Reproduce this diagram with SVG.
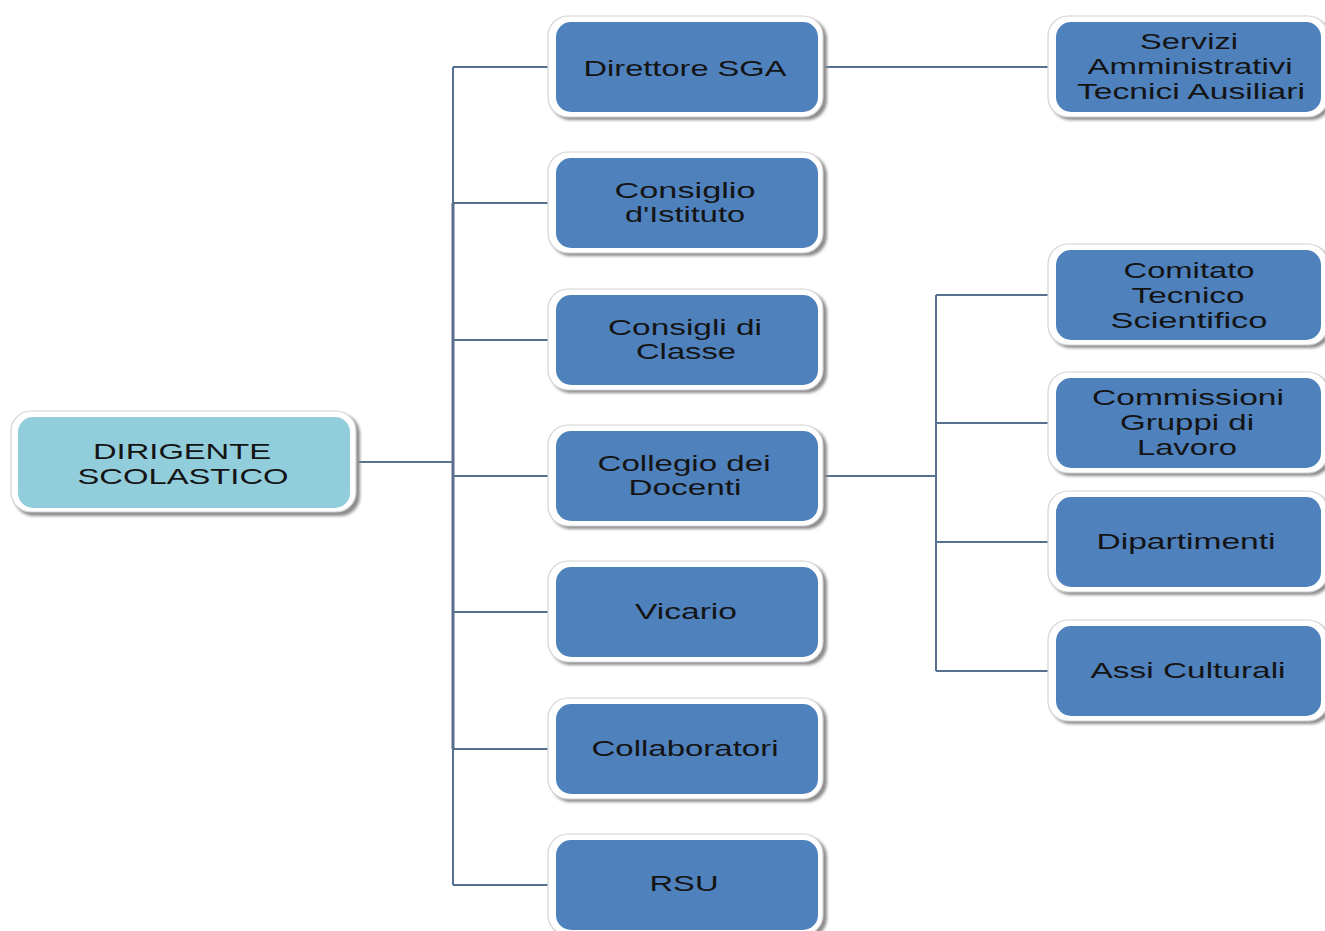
<svg xmlns="http://www.w3.org/2000/svg" width="1325" height="931" viewBox="0 0 1325 931">
<defs>
<filter id="sh" x="-10%" y="-10%" width="125%" height="130%">
<feGaussianBlur stdDeviation="1.5"/>
</filter>
</defs>
<style>
.shadow{fill:#8c8c8c;filter:url(#sh)}
.frame{fill:#ffffff;stroke:#d2d2d2;stroke-width:1.2}
.blue{fill:#4F81BD}
.cyan{fill:#92CDDC}
.t{font-family:"Liberation Sans",Arial,sans-serif;font-size:22px;fill:#141414;text-anchor:middle}
.ln{fill:none;stroke:#56708f;stroke-width:2}
.lnb{fill:none;stroke:#5a6d8c;stroke-width:3}
</style>
<rect width="1325" height="931" fill="#ffffff"/>
<g id="connectors">
<path class="ln" d="M357 462H453M453 67V885"/>
<path class="lnb" d="M453 203V749"/>
<path class="ln" d="M453 67H549M453 203H549M453 340H549M453 476H549M453 612H549M453 749H549M453 885H549"/>
<path class="ln" d="M823 67H1049"/>
<path class="ln" d="M823 476H936M936 295V671M936 295H1049M936 423H1049M936 542H1049M936 671H1049"/>
</g>
<g id="n-dirigente">
<rect class="shadow" x="14" y="414" width="346" height="102" rx="20"/>
<rect class="frame" x="11" y="411" width="345" height="101" rx="20"/>
<rect class="cyan" x="18" y="417" width="332" height="91" rx="15"/>
<text class="t" x="182" y="459" textLength="178" lengthAdjust="spacingAndGlyphs">DIRIGENTE</text>
<text class="t" x="183" y="484" textLength="211" lengthAdjust="spacingAndGlyphs">SCOLASTICO</text>
</g>
<g id="n-direttore">
<rect class="shadow" x="551" y="19" width="276" height="101" rx="20"/>
<rect class="frame" x="548" y="16" width="275" height="101" rx="20"/>
<rect class="blue" x="556" y="22" width="262" height="90" rx="15"/>
<text class="t" x="685" y="76" textLength="203" lengthAdjust="spacingAndGlyphs">Direttore SGA</text>
</g>
<g id="n-consiglio">
<rect class="shadow" x="551" y="155" width="276" height="101" rx="20"/>
<rect class="frame" x="548" y="152" width="275" height="101" rx="20"/>
<rect class="blue" x="556" y="158" width="262" height="90" rx="15"/>
<text class="t" x="685" y="198" textLength="141" lengthAdjust="spacingAndGlyphs">Consiglio</text>
<text class="t" x="685" y="222" textLength="120" lengthAdjust="spacingAndGlyphs">d'Istituto</text>
</g>
<g id="n-consigli-classe">
<rect class="shadow" x="551" y="292" width="276" height="101" rx="20"/>
<rect class="frame" x="548" y="289" width="275" height="101" rx="20"/>
<rect class="blue" x="556" y="295" width="262" height="90" rx="15"/>
<text class="t" x="685" y="335" textLength="154" lengthAdjust="spacingAndGlyphs">Consigli di</text>
<text class="t" x="686" y="359" textLength="100" lengthAdjust="spacingAndGlyphs">Classe</text>
</g>
<g id="n-collegio">
<rect class="shadow" x="551" y="428" width="276" height="101" rx="20"/>
<rect class="frame" x="548" y="425" width="275" height="101" rx="20"/>
<rect class="blue" x="556" y="431" width="262" height="90" rx="15"/>
<text class="t" x="684" y="471" textLength="173" lengthAdjust="spacingAndGlyphs">Collegio dei</text>
<text class="t" x="685" y="495" textLength="113" lengthAdjust="spacingAndGlyphs">Docenti</text>
</g>
<g id="n-vicario">
<rect class="shadow" x="551" y="564" width="276" height="101" rx="20"/>
<rect class="frame" x="548" y="561" width="275" height="101" rx="20"/>
<rect class="blue" x="556" y="567" width="262" height="90" rx="15"/>
<text class="t" x="686" y="619" textLength="102" lengthAdjust="spacingAndGlyphs">Vicario</text>
</g>
<g id="n-collaboratori">
<rect class="shadow" x="551" y="701" width="276" height="101" rx="20"/>
<rect class="frame" x="548" y="698" width="275" height="101" rx="20"/>
<rect class="blue" x="556" y="704" width="262" height="90" rx="15"/>
<text class="t" x="685" y="756" textLength="187" lengthAdjust="spacingAndGlyphs">Collaboratori</text>
</g>
<g id="n-rsu">
<rect class="shadow" x="551" y="837" width="276" height="101" rx="20"/>
<rect class="frame" x="548" y="834" width="275" height="101" rx="20"/>
<rect class="blue" x="556" y="840" width="262" height="90" rx="15"/>
<text class="t" x="684" y="891" textLength="69" lengthAdjust="spacingAndGlyphs">RSU</text>
</g>
<g id="n-servizi">
<rect class="shadow" x="1051" y="19" width="280" height="101" rx="20"/>
<rect class="frame" x="1048" y="16" width="280" height="101" rx="20"/>
<rect class="blue" x="1056" y="22" width="265" height="90" rx="15"/>
<text class="t" x="1189" y="49" textLength="98" lengthAdjust="spacingAndGlyphs">Servizi</text>
<text class="t" x="1190" y="74" textLength="205" lengthAdjust="spacingAndGlyphs">Amministrativi</text>
<text class="t" x="1191" y="99" textLength="228" lengthAdjust="spacingAndGlyphs">Tecnici Ausiliari</text>
</g>
<g id="n-comitato">
<rect class="shadow" x="1051" y="247" width="280" height="101" rx="20"/>
<rect class="frame" x="1048" y="244" width="280" height="101" rx="20"/>
<rect class="blue" x="1056" y="250" width="265" height="90" rx="15"/>
<text class="t" x="1189" y="278" textLength="131" lengthAdjust="spacingAndGlyphs">Comitato</text>
<text class="t" x="1188" y="303" textLength="113" lengthAdjust="spacingAndGlyphs">Tecnico</text>
<text class="t" x="1189" y="328" textLength="157" lengthAdjust="spacingAndGlyphs">Scientifico</text>
</g>
<g id="n-commissioni">
<rect class="shadow" x="1051" y="375" width="280" height="101" rx="20"/>
<rect class="frame" x="1048" y="372" width="280" height="101" rx="20"/>
<rect class="blue" x="1056" y="378" width="265" height="90" rx="15"/>
<text class="t" x="1188" y="405" textLength="192" lengthAdjust="spacingAndGlyphs">Commissioni</text>
<text class="t" x="1187" y="430" textLength="134" lengthAdjust="spacingAndGlyphs">Gruppi di</text>
<text class="t" x="1187" y="455" textLength="100" lengthAdjust="spacingAndGlyphs">Lavoro</text>
</g>
<g id="n-dipartimenti">
<rect class="shadow" x="1051" y="494" width="280" height="101" rx="20"/>
<rect class="frame" x="1048" y="491" width="280" height="101" rx="20"/>
<rect class="blue" x="1056" y="497" width="265" height="90" rx="15"/>
<text class="t" x="1186" y="549" textLength="179" lengthAdjust="spacingAndGlyphs">Dipartimenti</text>
</g>
<g id="n-assi">
<rect class="shadow" x="1051" y="623" width="280" height="101" rx="20"/>
<rect class="frame" x="1048" y="620" width="280" height="101" rx="20"/>
<rect class="blue" x="1056" y="626" width="265" height="90" rx="15"/>
<text class="t" x="1188" y="678" textLength="195" lengthAdjust="spacingAndGlyphs">Assi Culturali</text>
</g>
</svg>
